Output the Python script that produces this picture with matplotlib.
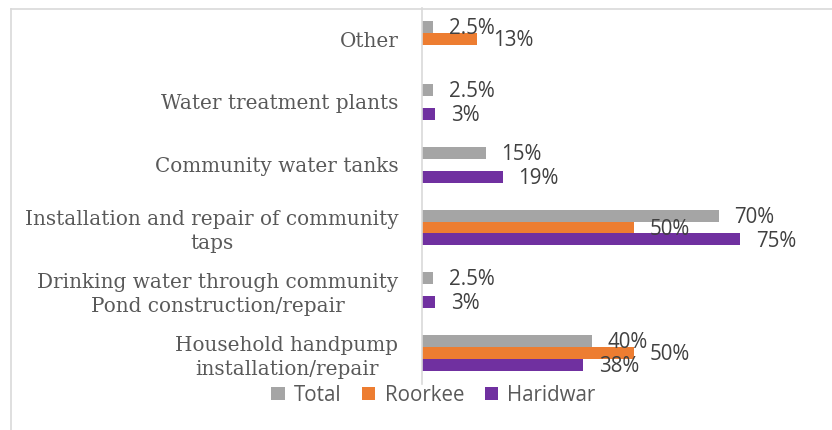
import matplotlib
matplotlib.use("Agg")
import matplotlib.pyplot as plt
import numpy as np
from matplotlib.lines import Line2D

# ── Data ──────────────────────────────────────────────────────────────────────
categories = [
    "Other",
    "Water treatment plants",
    "Community water tanks",
    "Installation and repair of community\ntaps",
    "Drinking water through community\nPond construction/repair",
    "Household handpump\ninstallation/repair",
]
total    = [2.5, 2.5, 15, 70, 2.5, 40]
roorkee  = [13, np.nan, np.nan, 50, np.nan, 50]
haridwar = [np.nan, 3, 19, 75, 3, 38]
label_text = {
    "Total":    ["2.5%", "2.5%", "15%", "70%", "2.5%", "40%"],
    "Roorkee":  ["13%", "", "", "50%", "", "50%"],
    "Haridwar": ["", "3%", "19%", "75%", "3%", "38%"],
}

series = [("Total", total, "#A5A5A5"),
          ("Roorkee", roorkee, "#ED7D31"),
          ("Haridwar", haridwar, "#7030A0")]

# ── Figure ────────────────────────────────────────────────────────────────────
fig = plt.figure(figsize=(8.32, 4.30), dpi=100)
ax = fig.add_axes([0.5072, 0.106, 0.4075, 0.876])

bar_h = 0.19
ypos = np.arange(len(categories))
for i, (name, vals, color) in enumerate(series):
    offs = (i - 1) * bar_h
    ax.barh(ypos + offs, vals, height=bar_h, color=color, label=name)
    for y, v, txt in zip(ypos + offs, vals, label_text[name]):
        if np.isnan(v) or not txt:
            continue
        ax.annotate(txt, (v, y), xytext=(11.5, -1.2), textcoords="offset points",
                    ha="left", va="center", fontsize=14.8, color="#404040",
                    family="Open Sans")

ax.set_ylim(len(categories) - 0.5, -0.5)
ax.set_xlim(0, 80)
ax.set_yticks(ypos)
ax.set_yticklabels(categories, family="DejaVu Serif", fontsize=14.4, color="#595959",
                   linespacing=1.3)
for lbl in ax.get_yticklabels():
    lbl.set_multialignment("center")
ax.tick_params(axis="y", length=0, pad=17)
ax.set_xticks([])
for side in ["top", "right", "bottom"]:
    ax.spines[side].set_visible(False)
ax.spines["left"].set_color("#D9D9D9")
ax.spines["left"].set_linewidth(1.2)

leg = fig.legend(loc="center", bbox_to_anchor=(0.521, 0.081), ncol=3, frameon=False,
                 prop={"family": "Open Sans", "size": 14.8}, labelcolor="#595959",
                 handlelength=0.65, handleheight=0.65, handletextpad=0.45,
                 columnspacing=1.0)

# chart-area border (left and top edges)
fig.add_artist(Line2D([0.0132, 0.0132], [0, 0.979], color="#D9D9D9", lw=1.2,
                      transform=fig.transFigure))
fig.add_artist(Line2D([0.0132, 1.0], [0.979, 0.979], color="#D9D9D9", lw=1.2,
                      transform=fig.transFigure))

fig.savefig("out.png", dpi=100, facecolor="white")
